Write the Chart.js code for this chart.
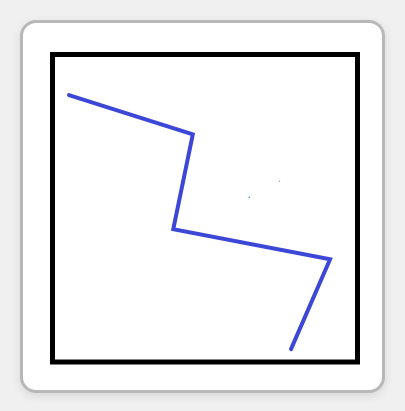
<!DOCTYPE html>
<html>
<head>
<meta charset="utf-8">
<script src="https://cdn.jsdelivr.net/npm/chart.js@4/dist/chart.umd.min.js"></script>
<style>
  html, body { margin: 0; padding: 0; width: 405px; height: 411px; overflow: hidden;
    background: #f0f0f0; }
  #card { position: absolute; left: 20px; top: 20px; width: 359px; height: 367px;
    background: #fff; border: 3px solid #b8b8b8; border-radius: 16px;
    box-shadow: 0 3px 10px rgba(0,0,0,0.10); }
  #c { position: absolute; left: 0; top: 0; }
</style>
</head>
<body>
<div id="card"></div>
<canvas id="c" width="405" height="411"></canvas>
<script>
const xValues = [0.54, 4.60, 3.96, 9.10, 7.82];
const yValues = [8.68, 7.40, 4.32, 3.34, 0.42];
const dotX = [6.45, 7.44];
const dotY = [5.36, 5.88];

const frame = {
  id: 'frame',
  afterDraw(chart) {
    const a = chart.chartArea, ctx = chart.ctx;
    ctx.save();
    ctx.strokeStyle = '#000';
    ctx.lineWidth = 5;
    ctx.strokeRect(a.left, a.top, a.right - a.left, a.bottom - a.top);
    ctx.restore();
  }
};

new Chart(document.getElementById('c'), {
  type: 'scatter',
  data: {
    datasets: [
      {
        data: xValues.map((x, i) => ({ x, y: yValues[i] })),
        showLine: true,
        borderColor: '#3d47d7',
        borderWidth: 4,
        pointRadius: 0,
        tension: 0,
        borderJoinStyle: 'miter',
        borderCapStyle: 'round',
        clip: false
      },
      {
        data: dotX.map((x, i) => ({ x, y: dotY[i] })),
        pointRadius: 0.8,
        pointBorderWidth: 0,
        pointBackgroundColor: ['#3b86c4', '#aaaaaa']
      }
    ]
  },
  options: {
    responsive: false,
    animation: false,
    layout: { padding: { left: 52.5, right: 47.5, top: 54.5, bottom: 49 } },
    plugins: { legend: { display: false }, tooltip: { enabled: false } },
    scales: {
      x: { type: 'linear', min: 0, max: 10, display: false },
      y: { type: 'linear', min: 0, max: 10, display: false }
    }
  },
  plugins: [frame]
});
</script>
</body>
</html>
